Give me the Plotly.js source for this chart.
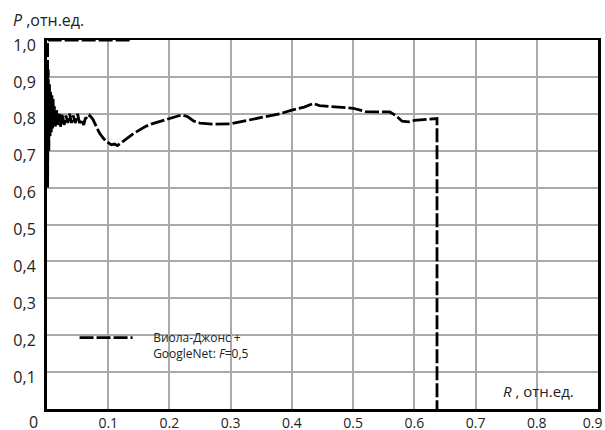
<!DOCTYPE html>
<html>
<head>
<meta charset="utf-8">
<script src="https://cdn.plot.ly/plotly-3.0.1.min.js"></script>
<style>html,body{margin:0;padding:0;background:#fff;}#chart{width:605px;height:430px;}</style>
</head>
<body>
<div id="chart"></div>
<script>
// Recall (R) and precision (P) values
const recall = [0.135, 0.001, 0.001, 0.002, 0.003, 0.004, 0.005, 0.006, 0.007, 0.008, 0.009, 0.010, 0.011, 0.012, 0.014, 0.016, 0.018, 0.020, 0.022, 0.025, 0.028, 0.031, 0.034, 0.037, 0.040, 0.043, 0.046, 0.050, 0.053, 0.056, 0.060, 0.063, 0.066, 0.070, 0.075, 0.080, 0.085, 0.090, 0.095, 0.100, 0.105, 0.110, 0.115, 0.120, 0.130, 0.140, 0.150, 0.160, 0.170, 0.180, 0.190, 0.200, 0.210, 0.220, 0.230, 0.240, 0.250, 0.270, 0.300, 0.320, 0.350, 0.380, 0.400, 0.420, 0.435, 0.445, 0.460, 0.480, 0.500, 0.520, 0.540, 0.560, 0.570, 0.580, 0.590, 0.600, 0.620, 0.637, 0.637];
const precision = [1.0, 1.0, 0.60, 0.92, 0.70, 0.88, 0.74, 0.86, 0.75, 0.85, 0.76, 0.84, 0.77, 0.82, 0.765, 0.81, 0.77, 0.80, 0.765, 0.80, 0.77, 0.795, 0.775, 0.80, 0.775, 0.795, 0.775, 0.80, 0.775, 0.785, 0.770, 0.790, 0.785, 0.795, 0.785, 0.765, 0.750, 0.738, 0.728, 0.722, 0.716, 0.718, 0.714, 0.720, 0.733, 0.745, 0.755, 0.765, 0.772, 0.777, 0.781, 0.786, 0.790, 0.797, 0.792, 0.780, 0.775, 0.772, 0.773, 0.780, 0.790, 0.800, 0.810, 0.818, 0.828, 0.822, 0.820, 0.818, 0.815, 0.806, 0.805, 0.805, 0.795, 0.780, 0.778, 0.782, 0.785, 0.787, 0.0];

const xTickVals = [0.1, 0.2, 0.3, 0.4, 0.5, 0.6, 0.7, 0.8, 0.9];
const xTickText = ['0.1', '0.2', '0.3', '0.4', '0.5', '0.6', '0.7', '0.8', '0.9&nbsp;&nbsp;&nbsp;'];
const yTickVals = [0.1, 0.2, 0.3, 0.4, 0.5, 0.6, 0.7, 0.8, 0.9, 1.0];
const yTickText = ['0,1', '0,2', '0,3', '0,4', '0,5', '0,6', '0,7', '0,8', '0,9', '1,0'];
const pad = '&nbsp;&nbsp;&nbsp;&nbsp;&nbsp;';
const seriesName = pad + 'Виола-Джонс +<br>' + pad + 'GoogleNet: <i>F</i>=0,5';

const font = 'Open Sans, DejaVu Sans, sans-serif';

const data = [{
  x: recall,
  y: precision,
  type: 'scatter',
  mode: 'lines',
  name: seriesName,
  line: {color: '#000', width: 2.8, dash: '14px,3px'},
  hoverinfo: 'skip'
}];

const layout = {
  width: 605,
  height: 430,
  margin: {l: 47, r: 7, t: 40, b: 21, pad: 0},
  paper_bgcolor: '#fff',
  plot_bgcolor: '#fff',
  showlegend: true,
  legend: {
    x: 0.05, y: 0.232, xanchor: 'left', yanchor: 'top',
    bgcolor: 'rgba(0,0,0,0)',
    font: {family: font, size: 12, color: '#222'},
    itemwidth: 53,
    valign: 'top'
  },
  xaxis: {
    range: [0, 0.9],
    tickvals: xTickVals,
    ticktext: xTickText,
    ticks: '',
    showgrid: true,
    gridcolor: '#aaaaaa',
    gridwidth: 2,
    zeroline: false,
    showline: true,
    linecolor: '#000',
    linewidth: 2.5,
    mirror: true,
    tickfont: {family: font, size: 14, color: '#222'},
    ticklabelstandoff: 0,
    ticklabeloverflow: 'allow'
  },
  yaxis: {
    range: [0, 1],
    tickvals: yTickVals,
    ticktext: yTickText,
    ticks: '',
    showgrid: true,
    gridcolor: '#aaaaaa',
    gridwidth: 2,
    zeroline: false,
    showline: true,
    linecolor: '#000',
    linewidth: 3,
    mirror: true,
    tickfont: {family: font, size: 16, color: '#222'},
    ticklabelstandoff: 5,
    ticklabelshift: 5
  },
  annotations: [
    {text: '<i>P</i> ,отн.ед.', xref: 'paper', yref: 'paper', x: -0.065, y: 1.055, xanchor: 'left', yanchor: 'middle', showarrow: false, font: {family: font, size: 16, color: '#222'}},
    {text: '<i>R</i> , отн.ед.', xref: 'paper', yref: 'paper', x: 0.96, y: 0.05, xanchor: 'right', yanchor: 'middle', showarrow: false, font: {family: font, size: 15, color: '#222'}},
    {text: '0', xref: 'paper', yref: 'paper', x: -0.012, y: -0.035, xanchor: 'right', yanchor: 'middle', showarrow: false, font: {family: font, size: 16, color: '#222'}}
  ]
};

Plotly.newPlot('chart', data, layout, {staticPlot: true, displayModeBar: false});
</script>
</body>
</html>
